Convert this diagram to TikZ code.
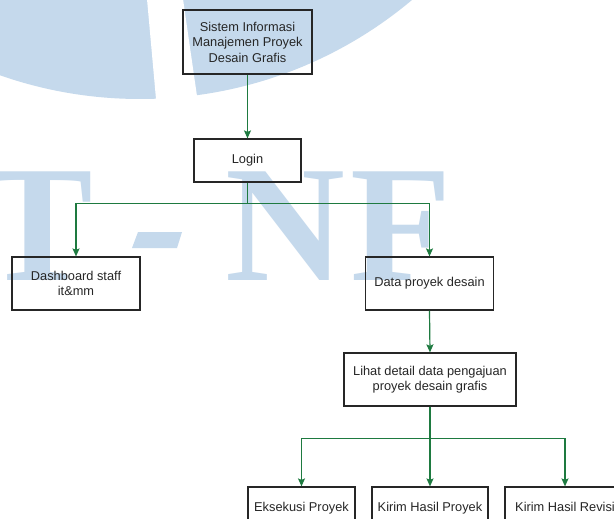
\documentclass[tikz,border=0pt]{standalone}
\usepackage{fontspec}
\setmainfont{Liberation Sans}
\newfontfamily\wmfont{Liberation Serif}
\usetikzlibrary{arrows.meta}
\definecolor{wmblue}{RGB}{197,217,236}
\definecolor{flowgreen}{RGB}{30,122,64}
\definecolor{ink}{RGB}{38,38,38}
\begin{document}
\begin{tikzpicture}[x=1pt,y=-1pt,
  box/.style={draw=ink, line width=1.2pt, text=ink, align=center, inner sep=2pt,
              font=\fontsize{12.8}{15.5}\selectfont},
  onebox/.style={box, text height=9.5pt, text depth=3pt},
  conn/.style={draw=flowgreen, line width=1.2pt,
               -{Stealth[length=8pt,width=7pt,inset=1.5pt]}},
  wmletter/.style={text=wmblue, inner sep=0pt, anchor=base,
                   font=\wmfont\bfseries\fontsize{166}{166}\selectfont}]

% page and background
\fill[white] (0,0) rectangle (614,519);
\useasboundingbox (0,0) rectangle (614,519);

% background emblem
\begin{scope}
  \clip (0,0) rectangle (614,519);
  \fill[wmblue] (140,-324) circle[radius=423pt];
  \fill[white] (147,-1) -- (183,-1) -- (199,110) -- (157,110) -- cycle;
\end{scope}
\node[wmletter] (wmT) at (38,280) {T};
\fill[wmblue] (132,248) -- (138,232) -- (182,232) -- (177,248) -- cycle;
\node[wmletter] (wmN) at (285,280) {N};
\node[wmletter] (wmF) at (401,280) {F};

% boxes
\node[box, minimum width=129pt, minimum height=64pt] (sim) at (247.5,42)
  {Sistem Informasi\\Manajemen Proyek\\Desain Grafis};
\node[onebox, minimum width=107pt, minimum height=43pt] (login) at (247.5,160.5) {Login};
\node[box, minimum width=128pt, minimum height=53pt] (dash) at (76,283.5)
  {Dashboard staff\\it\&mm};
\node[onebox, minimum width=128pt, minimum height=53pt] (data) at (429.5,283.5)
  {Data proyek desain};
\node[box, minimum width=172pt, minimum height=53pt] (detail) at (430,379.5)
  {Lihat detail data pengajuan\\proyek desain grafis};
\node[onebox, minimum width=107pt, minimum height=43pt] (eks) at (301.5,508.5)
  {Eksekusi Proyek};
\node[onebox, minimum width=116pt, minimum height=43pt] (khp) at (430,508.5)
  {Kirim Hasil Proyek};
\node[onebox, minimum width=120pt, minimum height=43pt] (khr) at (565,508.5)
  {Kirim Hasil Revisi};

% connectors
\draw[conn] (sim.south) -- (login.north);
\draw[conn] (login.south) -- ++(0,21) -| (dash.north);
\draw[conn] (login.south) -- ++(0,21) -| (data.north);
\draw[conn] (data.south) -- (detail.north);
\draw[conn] (detail.south) -- ++(0,32) -| (eks.north);
\draw[conn] (detail.south) -- (khp.north);
\draw[conn] (detail.south) -- ++(0,32) -| (khr.north);
\end{tikzpicture}
\end{document}
